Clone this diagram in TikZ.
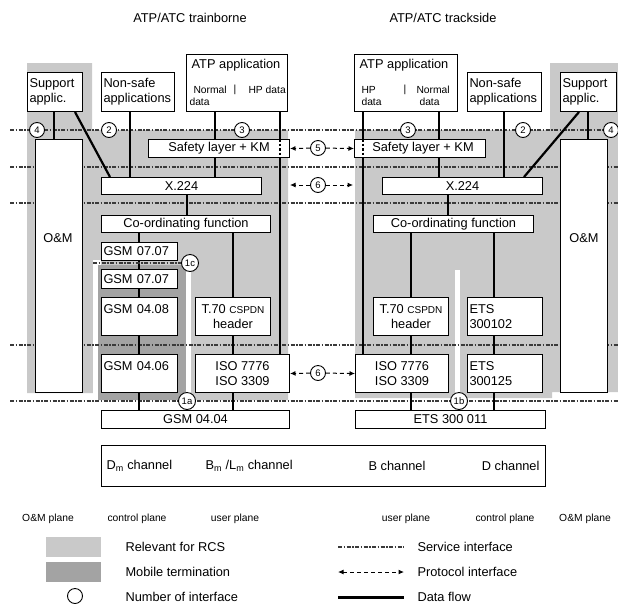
\documentclass[tikz,border=0pt]{standalone}
\usepackage{fontspec}
\setmainfont{Liberation Sans}
\usepackage{tikz}
\usetikzlibrary{calc,arrows.meta}
\definecolor{rcs-light}{HTML}{C9C9C9}
\definecolor{mt-dark}{HTML}{A3A3A3}
\definecolor{if-line}{HTML}{3A3A3A}

\begin{document}
\begin{tikzpicture}[x=1pt, y=-1pt,
    font=\fontsize{12.8}{15}\selectfont,
    box/.style={draw, line width=1pt, fill=white, anchor=north west, inner sep=2pt},
    wh/.style 2 args={minimum width=#1, minimum height=#2},
    lft/.style={align=left, text width=#1},
    flow/.style={line width=2.2pt},
    hp/.style={line width=2.2pt, dash pattern=on 2.5pt off 2pt},
    svc/.style={if-line, line width=1.1pt, dash pattern=on 4pt off 1.5pt on 1.5pt off 1.5pt},
    proto/.style={line width=1pt, dash pattern=on 4pt off 3pt, -{Latex[length=5.5pt,width=5pt]}},
    ifc/.style={draw, circle, fill=white, line width=0.9pt, minimum size=15pt, inner sep=0pt, font=\fontsize{9.5}{10}\selectfont},
    small/.style={font=\fontsize{10.3}{11}\selectfont}]
    \useasboundingbox (0,0) rectangle (618,603);

    \fill[rcs-light] (27,63) -- (92,63) -- (92,130) -- (288,130) -- (288,400) -- (96,400) -- (96,393) -- (27,393) -- cycle;
    \fill[white] (93,260) rectangle (98,400);
    \fill[white] (93,260) rectangle (101,265);
    \fill[mt-dark] (98,265) rectangle (186,400);
    \fill[white] (186,267) rectangle (191,400);
    \fill[rcs-light] (355,130) -- (550,130) -- (550,63) -- (618,63) -- (618,392) -- (552,392) -- (552,398) -- (355,398) -- cycle;
    \fill[white] (455,270) rectangle (460,398);

    \foreach \y in {130,167,203,345,401}
        \draw[svc] (10,\y) -- (618,\y);
    \coordinate (s1c) at (93,263);

    \node (tb) at (190,18) {ATP/ATC trainborne};
    \node (ts) at (443,18) {ATP/ATC trackside};

    % trainborne
    \node[box, wh={55}{39}, lft=51pt] (supL) at (27,72) {Support\\applic.};
    \node[box, wh={73}{39}, lft=69pt] (nsafeL) at (101,72) {Non-safe\\applications};
    \node[box, wh={101}{57}] (atpL) at (186,54) {};
    \node[box, wh={141}{18}] (safeL) at (148,139) {Safety layer + KM};
    \node[box, wh={160}{17}] (xL) at (101,177) {X.224};
    \node[box, wh={169}{17}] (coL) at (101,215) {Co-ordinating function};
    \node[box, wh={76}{18}, lft=72pt] (gsmA) at (101,242) {GSM 07.07};
    \node[box, wh={76}{19}, lft=72pt] (gsmB) at (101,269) {GSM 07.07};
    \node[box, wh={76}{38}, lft=72pt] (gsmC) at (101,297) {GSM 04.08\\ \mbox{}};
    \node[box, wh={75}{38}, align=center] (t70L) at (195,297) {T.70 {\fontsize{10}{11}\selectfont CSPDN}\\header};
    \node[box, wh={76}{38}, lft=72pt] (gsmD) at (101,354) {GSM 04.06\\ \mbox{}};
    \node[box, wh={94}{38}, align=center] (isoL) at (195,354) {ISO 7776\\ISO 3309};
    \node[box, wh={188}{18}] (gsmE) at (101,410) {GSM 04.04};
    \node[box, wh={47}{253}] (omL) at (35,139) {};
    \node (omLt) at (58,238) {O\&M};
    \node (atpLt) at (236,65) {ATP application};
    \node[small, anchor=west] (nrmL) at (190,90) {Normal};
    \node[small] (barL) at (235,90) {|};
    \node[small, anchor=west] (hpL) at (245,90) {HP data};
    \node[small, anchor=west] (nrmLd) at (186,102) {data};

    % trackside
    \node[box, wh={103}{57}] (atpR) at (354,54) {};
    \node[box, wh={74}{39}, lft=70pt] (nsafeR) at (467,72) {Non-safe\\applications};
    \node[box, wh={56}{39}, lft=52pt] (supR) at (560,72) {Support\\applic.};
    \node[box, wh={131}{18}] (safeR) at (354,139) {\hspace*{6pt}Safety layer + KM};
    \node[box, wh={160}{17}] (xR) at (382,177) {X.224};
    \node[box, wh={160}{17}] (coR) at (373,215) {Co-ordinating function};
    \node[box, wh={75}{38}, align=center] (t70R) at (373,297) {T.70 {\fontsize{10}{11}\selectfont CSPDN}\\header};
    \node[box, wh={75}{38}, lft=71pt] (etsA) at (467,297) {ETS\\300102};
    \node[box, wh={93}{38}, align=center] (isoR) at (355,354) {ISO 7776\\ISO 3309};
    \node[box, wh={75}{38}, lft=71pt] (etsB) at (467,354) {ETS\\300125};
    \node[box, wh={190}{18}] (etsC) at (355,410) {ETS 300 011};
    \node[box, wh={47}{253}] (omR) at (560,139) {};
    \node (omRt) at (584,238) {O\&M};
    \node (atpRt) at (404,65) {ATP application};
    \node[small, anchor=west] (hpR) at (358,90) {HP};
    \node[small, anchor=west] (hpRd) at (358,102) {data};
    \node[small] (barR) at (405,90) {|};
    \node[small, anchor=west] (nrmR) at (413,90) {Normal};
    \node[small, anchor=west] (nrmRd) at (416,102) {data};

    \draw[flow] (supL.south -| 54,0) -- (omL.north -| 54,0);
    \draw[flow] (supL.south -| 75,0) -- (xL.north -| 110,0);
    \draw[flow] (nsafeL.south -| 130,0) -- (xL.north -| 130,0);
    \draw[flow] (atpL.south -| 215,0) -- (safeL.north -| 215,0);
    \draw[flow] (safeL.south -| 215,0) -- (xL.north -| 215,0);
    \draw[flow] (atpL.south -| 280,0) -- (safeL.north -| 280,0);
    \draw[hp] (safeL.north -| 280,0) -- (safeL.south -| 280,0);
    \draw[flow] (safeL.south -| 280,0) -- (isoL.north -| 280,0);
    \draw[flow] (xL.south -| 187,0) -- (coL.north -| 187,0);
    \foreach \a/\b in {coL/gsmA, gsmA/gsmB, gsmB/gsmC, gsmC/gsmD, gsmD/gsmE}
        \draw[flow] (\a.south -| 139,0) -- (\b.north -| 139,0);
    \foreach \a/\b in {coL/t70L, t70L/isoL, isoL/gsmE}
        \draw[flow] (\a.south -| 233,0) -- (\b.north -| 233,0);

    \draw[flow] (atpR.south -| 363,0) -- (safeR.north -| 363,0);
    \draw[hp] (safeR.north -| 363,0) -- (safeR.south -| 363,0);
    \draw[flow] (safeR.south -| 363,0) -- (isoR.north -| 363,0);
    \draw[flow] (atpR.south -| 439,0) -- (safeR.north -| 439,0);
    \draw[flow] (safeR.south -| 439,0) -- (xR.north -| 439,0);
    \draw[flow] (nsafeR.south -| 504,0) -- (xR.north -| 504,0);
    \draw[flow] (supR.south -| 579,0) -- (xR.north -| 524,0);
    \draw[flow] (supR.south -| 588,0) -- (omR.north -| 588,0);
    \draw[flow] (xR.south -| 448,0) -- (coR.north -| 448,0);
    \foreach \a/\b in {coR/t70R, t70R/isoR, isoR/etsC}
        \draw[flow] (\a.south -| 411,0) -- (\b.north -| 411,0);
    \foreach \a/\b in {coR/etsA, etsA/etsB, etsB/etsC}
        \draw[flow] (\a.south -| 494,0) -- (\b.north -| 494,0);

    \node[ifc] (c4L) at (37,130) {4};
    \node[ifc] (c2L) at (109,130) {2};
    \node[ifc] (c3L) at (242,130) {3};
    \node[ifc] (c3R) at (408,130) {3};
    \node[ifc] (c2R) at (523,130) {2};
    \node[ifc] (c4R) at (611,130) {4};
    \node[ifc, minimum size=17pt] (c1c) at (190,263) {1c};
    \node[ifc, minimum size=17pt] (c1a) at (187,401) {1a};
    \node[ifc, minimum size=17pt] (c1b) at (459,401) {1b};
    \draw[svc] (s1c) -- (c1c);

    \node[ifc] (c5) at (318,148) {5};
    \draw[proto] (c5) -- (safeL.east);
    \draw[proto] (c5) -- (safeR.west);
    \node[ifc] (c6a) at (318,185) {6};
    \coordinate (p6l) at (290,185);
    \coordinate (p6r) at (353,185);
    \draw[proto] (c6a) -- (p6l);
    \draw[proto] (c6a) -- (p6r);
    \node[ifc] (c6b) at (318,373) {6};
    \draw[proto] (c6b) -- (isoL.east);
    \draw[proto] (c6b) -- (isoR.west);

    \node[box, wh={444}{41}, fill=none] (chan) at (101,445) {};
    \node[anchor=west] (dmch) at (103,466) {D\textsubscript{m} channel};
    \node[anchor=west] (bmch) at (202,466) {B\textsubscript{m} /L\textsubscript{m} channel};
    \node (bch) at (397,466) {B channel};
    \node[anchor=east] (dch) at (543,466) {D channel};

    \node[small] (omp1) at (48,519) {O\&M plane};
    \node[small] (cp1) at (137,519) {control plane};
    \node[small] (up1) at (235,519) {user plane};
    \node[small] (up2) at (406,519) {user plane};
    \node[small] (cp2) at (505,519) {control plane};
    \node[small] (omp2) at (585,519) {O\&M plane};

    \fill[rcs-light] (46,537) rectangle (101,557);
    \fill[mt-dark] (46,562) rectangle (101,582);
    \draw[line width=0.9pt] (75,596) circle (7.5pt);
    \node[anchor=west] (lg1) at (122,547) {Relevant for RCS};
    \node[anchor=west] (lg2) at (122,572) {Mobile termination};
    \node[anchor=west] (lg3) at (122,597) {Number of interface};
    \draw[svc] (338,547) -- (404,547);
    \draw[proto, {Latex[length=5.5pt,width=5pt]}-{Latex[length=5.5pt,width=5pt]}] (338,572) -- (404,572);
    \draw[line width=3pt] (338,597) -- (404,597);
    \node[anchor=west] (lg4) at (414,547) {Service interface};
    \node[anchor=west] (lg5) at (414,572) {Protocol interface};
    \node[anchor=west] (lg6) at (414,597) {Data flow};
\end{tikzpicture}
\end{document}
